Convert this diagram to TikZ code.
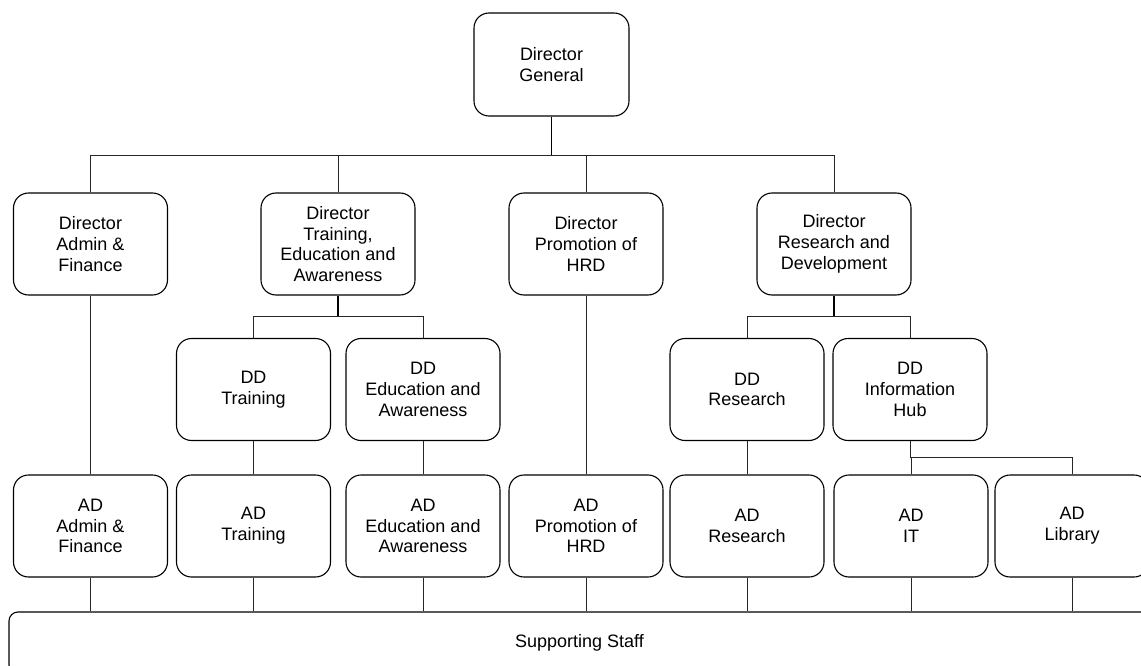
\documentclass[tikz,border=0pt]{standalone}
\usepackage{fontspec}
\setmainfont{Liberation Sans}
\usetikzlibrary{calc}
\tikzset{
  unit/.style={draw=black, line width=1.1pt, rounded corners=15pt, fill=white,
    minimum width=154pt, minimum height=102pt, align=center, inner sep=0pt,
    font=\fontsize{18}{20.7}\selectfont},
  conn/.style={draw=black!85, line width=1pt},
  stem/.style={draw=black, line width=1.7pt},
}
\begin{document}
\begin{tikzpicture}[x=1pt,y=-1pt]
\useasboundingbox (0,0) rectangle (1141,666);
\clip (0,0) rectangle (1141,666);
% top
\node[unit, minimum width=155pt, minimum height=103pt] (dg) at (551.5,64.5) {Director\\General};
% directors
\node[unit] (dadm) at (90.5,244) {Director\\Admin \&\\Finance};
\node[unit] (dtrn) at (338,244) {Director\\Training,\\Education and\\Awareness};
\node[unit] (dpro) at (586,244) {Director\\Promotion of\\HRD};
\node[unit] (drd)  at (834,244) {Director\\Research and\\Development};
% deputy directors
\node[unit] (ddtrn) at (253.5,389.5) {DD\\Training};
\node[unit] (ddedu) at (423,389.5) {DD\\Education and\\Awareness};
\node[unit] (ddres) at (747,389.5) {DD\\Research};
\node[unit] (ddinf) at (910,389.5) {DD\\Information\\Hub};
% assistant directors
\node[unit] (adadm) at (90.5,526) {AD\\Admin \&\\Finance};
\node[unit] (adtrn) at (253.5,526) {AD\\Training};
\node[unit] (adedu) at (423,526) {AD\\Education and\\Awareness};
\node[unit] (adpro) at (586,526) {AD\\Promotion of\\HRD};
\node[unit] (adres) at (747,526) {AD\\Research};
\node[unit] (adit)  at (911,526) {AD\\IT};
\node[unit] (adlib) at (1072,526) {AD\\Library};
% supporting staff
\node[unit, rounded corners=9pt, minimum width=1141pt, minimum height=62pt] (ss) at (579.5,643) {Supporting Staff};
% connectors: DG to directors
\draw[stem] (dg.south) -- ++(0,39) coordinate (b1);
\draw[conn] (dadm.north) |- (b1);
\draw[conn] (drd.north) |- (b1);
\draw[conn] (dtrn.north) -- (dtrn.north |- b1);
\draw[conn] (dpro.north) -- (dpro.north |- b1);
% training branch
\draw[stem] (dtrn.south) -- ++(0,21) coordinate (b2);
\draw[conn] (ddtrn.north) |- (b2);
\draw[conn] (ddedu.north) |- (b2);
% R&D branch
\draw[stem] (drd.south) -- ++(0,21) coordinate (b3);
\draw[conn] (ddres.north) |- (b3);
\draw[conn] (ddinf.north) |- (b3);
% info hub branch
\draw[conn] (ddinf.south) -- ++(0,16.5) coordinate (b4);
\draw[conn] (adlib.north) |- (b4);
\draw[conn] (adit.north) -- (adit.north |- b4);
% straight down
\draw[conn] (dadm.south) -- (adadm.north);
\draw[conn] (dpro.south) -- (adpro.north);
\draw[conn] (ddtrn.south) -- (adtrn.north);
\draw[conn] (ddedu.south) -- (adedu.north);
\draw[conn] (ddres.south) -- (adres.north);
% to supporting staff
\foreach \n in {adadm,adtrn,adedu,adpro,adres,adit,adlib}
  \draw[conn] (\n.south) -- (\n.south |- ss.north);
\end{tikzpicture}
\end{document}
